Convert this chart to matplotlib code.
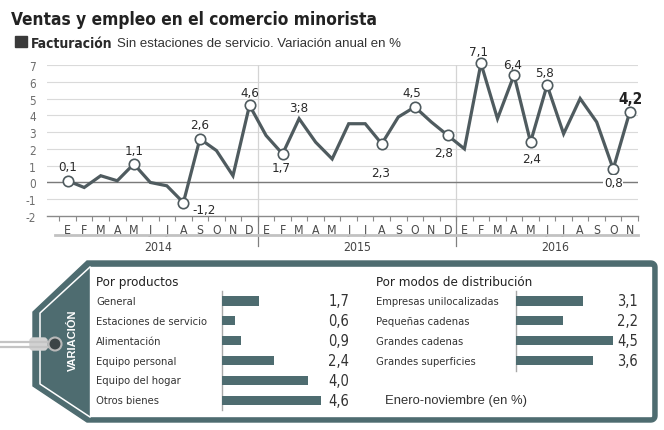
import matplotlib
matplotlib.use("Agg")
import matplotlib.pyplot as plt
import numpy as np
from matplotlib.patches import Polygon, Rectangle, Circle, FancyBboxPatch

plt.rcParams['font.family'] = ['DejaVu Sans']
plt.rcParams['font.stretch'] = 'condensed'

W, H = 664, 431

# datos de la linea (variacion anual en %)
meses = ["E", "F", "M", "A", "M", "J", "J", "A", "S", "O", "N", "D"]
anios = ["2014", "2015", "2016"]
fact_2014 = [0.1, -0.3, 0.4, 0.1, 1.1, 0.0, -0.2, -1.2, 2.6, 1.9, 0.4, 4.6]
fact_2015 = [2.8, 1.7, 3.8, 2.4, 1.4, 3.5, 3.5, 2.3, 3.9, 4.5, 3.6, 2.8]
fact_2016 = [2.0, 7.1, 3.8, 6.4, 2.4, 5.8, 2.9, 5.0, 3.6, 0.8, 4.2]

# puntos rotulados
etiq_idx = [0, 4, 7, 8, 11, 13, 14, 19, 21, 23, 25, 27, 28, 29, 33, 34]
etiq_txt = ["0,1", "1,1", "-1,2", "2,6", "4,6", "1,7", "3;8", "2,3", "4,5",
            "2,8", "7,1", "6,4", "2,4", "5,8", "0,8", "4,2"]

# barras
prod_nombres = ["General", "Estaciones de servicio", "Alimentación",
                "Equipo personal", "Equipo del hogar", "Otros bienes"]
prod_valores = [1.7, 0.6, 0.9, 2.4, 4.0, 4.6]
dist_nombres = ["Empresas unilocalizadas", "Pequeñas cadenas",
                "Grandes cadenas", "Grandes superficies"]
dist_valores = [3.1, 2.2, 4.5, 3.6]

LINEA = '#4f5b5f'
TEAL = '#4e6c70'
BEIGE = '#f4f2e8'
GRIS = '#6e6e6e'
NORMAL = dict(family=['Liberation Sans', 'DejaVu Sans'], stretch='normal')


def px_axes(fig, x0, y0, x1, y1):
    return fig.add_axes([x0 / W, 1 - y1 / H, (x1 - x0) / W, (y1 - y0) / H])


fig = plt.figure(figsize=(W / 100, H / 100), dpi=100)

# capa de fondo en pixeles
bg = fig.add_axes([0, 0, 1, 1])
bg.set_xlim(0, W)
bg.set_ylim(H, 0)
bg.axis('off')

bg.text(11, 25, "Ventas y empleo en el comercio minorista", fontsize=12.4,
        fontweight='bold', color='#222222', va='baseline')
bg.add_patch(Rectangle((15, 37), 12, 11, color='#3a3a3a'))
t_b = bg.text(31, 48, "Facturación", fontsize=10, fontweight='bold',
              color='#2a2a2a', va='baseline')
bg.annotate("Sin estaciones de servicio. Variación anual en %", xy=(1, 0),
            xycoords=t_b, xytext=(3, 0.5), textcoords='offset points',
            fontsize=9.5, color='#333333', va='bottom', **NORMAL)

# etiqueta (tag)
ang = np.linspace(0, np.pi / 2, 6)
r = 6
esq_sup = [(651 + r * np.sin(a), 262 + r - r * np.cos(a)) for a in ang]
esq_inf = [(657 - r + r * np.cos(a), 423 - r + r * np.sin(a)) for a in ang]
forma = [(87, 262)] + esq_sup + esq_inf + [(87, 423), (33, 387), (33, 313)]
bg.add_patch(Polygon(forma, closed=True, color=TEAL, zorder=1))
bg.plot([90, 40, 40, 90], [268, 314, 385, 418], color='white', lw=1.1, zorder=2)
bg.add_patch(Rectangle((90, 268), 561, 149, color='white', zorder=2))

# cordel y ojal
bg.add_patch(FancyBboxPatch((30, 339), 17, 12, boxstyle='round,pad=0,rounding_size=3',
                            color='#d2d2d2', zorder=3))
bg.plot([0, 56], [343, 343], color='#c4c4c4', lw=1.6, zorder=3)
bg.plot([0, 56], [347.5, 347.5], color='#c4c4c4', lw=1.6, zorder=3)
bg.add_patch(Circle((55, 345), 6.5, facecolor='#3c4446', edgecolor='#b9b9b9',
                    lw=1.5, zorder=4))
bg.text(73, 340, "VARIACIÓN", rotation=90, color='white', fontsize=8,
        fontweight='bold', ha='center', va='center', zorder=5, **NORMAL)

# grafico de linea
serie = fact_2014 + fact_2015 + fact_2016
x = np.arange(len(serie))
ax = px_axes(fig, 47, 66, 638, 217)
ax.patch.set_alpha(0)
ax.set_xlim(-1.25, 34.5)
ax.set_ylim(-2, 7)
for v in range(-1, 8):
    ax.axhline(v, color='#dadada', lw=0.8, zorder=0)
ax.axhline(0, color='#7a7a7a', lw=1, zorder=1)
for s in ['top', 'right', 'left']:
    ax.spines[s].set_visible(False)
ax.spines['bottom'].set_color('#8a8a8a')
ax.spines['bottom'].set_linewidth(1)

ax.set_yticks(range(-2, 8))
ax.set_yticklabels([str(v) for v in range(-2, 8)], color=GRIS, fontsize=8.5)
ax.tick_params(axis='y', length=0, pad=8)
ax.set_xticks(x)
ax.set_xticklabels([meses[i % 12] for i in x], color='#4a4a4a', fontsize=8.8)
ax.set_xticks(np.arange(-0.5, 35, 1), minor=True)
ax.tick_params(axis='x', which='major', length=0, pad=5)
ax.tick_params(axis='x', which='minor', length=3.5, color='#8a8a8a', width=0.8)

# separadores de anio
for xs in [11.5, 23.5]:
    ax.plot([xs, xs], [-2, 7], color='#d4d4d4', lw=0.9, zorder=0)
    ax.plot([xs, xs], [-2, -3.8], color='#808080', lw=0.9, clip_on=False)
ax.plot([-0.75, 34.5], [-3.13, -3.13], color='#c2c2c2', lw=2, clip_on=False)
for k, a in enumerate(anios):
    ax.text(5.5 + 12 * k, -3.8, a, ha='center', va='center', fontsize=8.8,
            color='#444444')

ax.plot(x, serie, color=LINEA, lw=2.3, zorder=3, solid_joinstyle='miter')
circ = [i for i in etiq_idx if i != 14]
ax.plot(circ, [serie[i] for i in circ], 'o', ms=7.5, mfc='white', mec=LINEA,
        mew=1.2, zorder=4, clip_on=False)

despl = {0: (0, 14), 4: (0, 13), 7: (21, -7), 8: (0, 14), 11: (0, 13),
         13: (-1, -14), 14: (0, 11), 19: (-1, -29), 21: (-3, 14), 23: (-4, -17),
         25: (-2, 12), 27: (-1, 11), 28: (1, -16), 29: (-3, 13), 33: (0, -13),
         34: (1, 13)}
for i, t in zip(etiq_idx, etiq_txt):
    dx, dy = despl[i]
    kw = dict(fontsize=9.5, color='#2a2a2a')
    if i == 34:
        kw = dict(fontsize=11, fontweight='bold', color='#222222')
    if i == 33:
        kw['bbox'] = dict(facecolor='white', edgecolor='none', pad=0.5)
    ax.annotate(t, (i, serie[i]), xytext=(dx, dy), textcoords='offset pixels',
                ha='center', va='center', zorder=5, annotation_clip=False, **kw)


# paneles de barras
def panel(x0, x1, base, nombres, valores, titulo, blancas, n_eje, xval):
    esc = 21.6
    p = px_axes(fig, x0, 268, x1, 416)
    p.set_facecolor(BEIGE)
    p.set_xlim((x0 - base) / esc, (x1 - base) / esc)
    p.set_ylim(5.74, -1.71)
    p.axis('off')
    p.patch.set_visible(True)
    for b in blancas:
        p.axhspan(b - 0.5, b + 0.5, color='white', zorder=0)
    p.axhline(-0.5, color='white', lw=1, zorder=0)
    filas = np.arange(len(valores))
    p.barh(filas, valores, height=0.46, color=TEAL, zorder=2)
    p.plot([0, 0], [-0.5, n_eje - 0.5], color='#a8a8a8', lw=1, zorder=1)
    xl = (x0 + 6 - base) / esc
    p.text(xl, -1.0, titulo, fontsize=9.6, color='#222222', va='center')
    for f, n, v in zip(filas, nombres, valores):
        p.text(xl, f, n, fontsize=8, color='#333333', va='center')
        p.text((xval - base) / esc, f, f"{v:.1f}".replace('.', ','),
               fontsize=10.5, color='#333333', ha='right', va='center')
    return p, esc


p1, e1 = panel(90, 360, 222, prod_nombres, prod_valores, "Por productos",
               [1, 3, 5], 6, 349)
p2, e2 = panel(370, 651, 515.7, dist_nombres, dist_valores,
               "Por modos de distribución", [1, 3], 4, 638)
p2.text((385 - 515.7) / e2, 5.0, "Enero-noviembre (en %)", fontsize=9.4,
        color='#333333', va='center', **NORMAL)

fig.savefig("out.png", dpi=100)
